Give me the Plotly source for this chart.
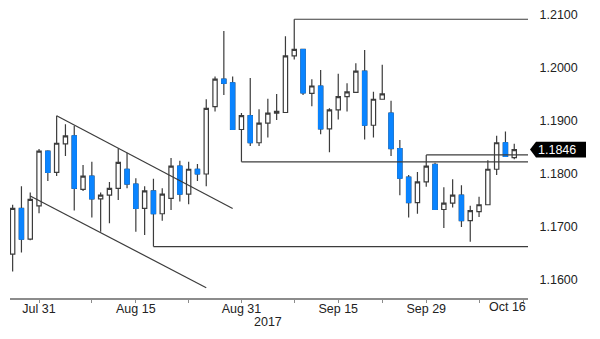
import plotly.graph_objects as go

# ---- data (EUR/USD daily candles) ----
dates = [
    "2017-07-26", "2017-07-27", "2017-07-28", "2017-07-31", "2017-08-01", "2017-08-02",
    "2017-08-03", "2017-08-04", "2017-08-07", "2017-08-08", "2017-08-09", "2017-08-10",
    "2017-08-11", "2017-08-14", "2017-08-15", "2017-08-16", "2017-08-17", "2017-08-18",
    "2017-08-21", "2017-08-22", "2017-08-23", "2017-08-24", "2017-08-25", "2017-08-28",
    "2017-08-29", "2017-08-30", "2017-08-31", "2017-09-01", "2017-09-04", "2017-09-05",
    "2017-09-06", "2017-09-07", "2017-09-08", "2017-09-11", "2017-09-12", "2017-09-13",
    "2017-09-14", "2017-09-15", "2017-09-18", "2017-09-19", "2017-09-20", "2017-09-21",
    "2017-09-22", "2017-09-25", "2017-09-26", "2017-09-27", "2017-09-28", "2017-09-29",
    "2017-10-02", "2017-10-03", "2017-10-04", "2017-10-05", "2017-10-06", "2017-10-09",
    "2017-10-10", "2017-10-11", "2017-10-12", "2017-10-13",
]
opens = [
    1.1649, 1.1735, 1.1677, 1.1740, 1.1843, 1.1803,
    1.1857, 1.1872, 1.1771, 1.1796, 1.1753, 1.1760,
    1.1773, 1.1809, 1.1781, 1.1735, 1.1768, 1.1725,
    1.1754, 1.1815, 1.1762, 1.1809, 1.1800, 1.1927,
    1.1979, 1.1972, 1.1884, 1.1910, 1.1859, 1.1896,
    1.1915, 1.1916, 1.2023, 1.2035, 1.1952, 1.1966,
    1.1885, 1.1921, 1.1946, 1.1954, 1.1994, 1.1892,
    1.1941, 1.1915, 1.1848, 1.1794, 1.1746, 1.1785,
    1.1818, 1.1733, 1.1745, 1.1760, 1.1712, 1.1729,
    1.1742, 1.1809, 1.1859, 1.1831,
]
highs = [
    1.1742, 1.1777, 1.1765, 1.1847, 1.1845, 1.1910,
    1.1894, 1.1891, 1.1817, 1.1823, 1.1765, 1.1785,
    1.1848, 1.1840, 1.1792, 1.1777, 1.1791, 1.1773,
    1.1830, 1.1825, 1.1823, 1.1819, 1.1941, 1.1984,
    1.2070, 1.1984, 1.1915, 1.1981, 1.1922, 1.1942,
    1.1951, 1.2060, 1.2092, 1.2035, 1.1979, 1.1996,
    1.1924, 1.1989, 1.1971, 1.2009, 1.2034, 1.1955,
    1.2006, 1.1938, 1.1864, 1.1798, 1.1804, 1.1836,
    1.1821, 1.1775, 1.1790, 1.1779, 1.1740, 1.1757,
    1.1826, 1.1872, 1.1880, 1.1857,
]
lows = [
    1.1616, 1.1652, 1.1675, 1.1726, 1.1787, 1.1796,
    1.1834, 1.1731, 1.1768, 1.1718, 1.1691, 1.1707,
    1.1751, 1.1773, 1.1691, 1.1685, 1.1663, 1.1712,
    1.1732, 1.1748, 1.1743, 1.1787, 1.1777, 1.1918,
    1.1949, 1.1883, 1.1823, 1.1853, 1.1853, 1.1869,
    1.1902, 1.1916, 1.2016, 1.1949, 1.1928, 1.1875,
    1.1841, 1.1903, 1.1918, 1.1954, 1.1865, 1.1869,
    1.1940, 1.1834, 1.1760, 1.1718, 1.1725, 1.1776,
    1.1733, 1.1698, 1.1737, 1.1700, 1.1672, 1.1719,
    1.1742, 1.1798, 1.1833, 1.1828,
]
closes = [
    1.1735, 1.1677, 1.1752, 1.1843, 1.1803, 1.1858,
    1.1872, 1.1773, 1.1796, 1.1753, 1.1760, 1.1773,
    1.1822, 1.1781, 1.1735, 1.1768, 1.1725, 1.1762,
    1.1815, 1.1762, 1.1809, 1.1800, 1.1924, 1.1979,
    1.1971, 1.1884, 1.1910, 1.1859, 1.1896, 1.1915,
    1.1918, 1.2023, 1.2035, 1.1953, 1.1966, 1.1885,
    1.1921, 1.1946, 1.1955, 1.1994, 1.1892, 1.1941,
    1.1951, 1.1848, 1.1792, 1.1746, 1.1785, 1.1815,
    1.1733, 1.1745, 1.1760, 1.1712, 1.1731, 1.1742,
    1.1809, 1.1859, 1.1833, 1.1846,
]
last_price = 1.1846

y_tickvals = [1.16, 1.17, 1.18, 1.19, 1.20, 1.21]
x_tickvals = ["2017-07-31", "2017-08-08", "2017-08-15", "2017-08-23", "2017-08-31",
              "2017-09-08", "2017-09-15", "2017-09-22", "2017-09-29", "2017-10-09",
              "2017-10-16"]
x_ticktext = ["Jul 31", "", "Aug 15", "", "Aug 31", "", "Sep 15", "", "Sep 29", "", ""]
year_label = "2017"

# trend lines: (start date, start price, end date, end price)
trend_lines = [
    ("2017-08-02", 1.1910, "2017-08-30", 1.1735),
    ("2017-07-28", 1.17585, "2017-08-25", 1.15855),
]
# horizontal levels from a candle's high/low
level_lows = ["2017-08-17", "2017-08-31"]
level_highs = ["2017-09-08", "2017-09-29"]

x_range = ["2017-07-25 16:48", "2017-10-16 13:30"]
y_range = [1.156604, 1.21283]

BLUE = "#0A84FF"
DARK = "#3c3c3c"
FONT = "Liberation Sans Narrow, Liberation Sans, Arial, sans-serif"

fig = go.Figure()

# full candles: wicks + outlines in dark gray
fig.add_trace(go.Candlestick(
    x=dates, open=opens, high=highs, low=lows, close=closes,
    increasing=dict(line=dict(color=DARK, width=1.2), fillcolor="white"),
    decreasing=dict(line=dict(color=DARK, width=1.2), fillcolor=BLUE),
    whiskerwidth=0, showlegend=False, hoverinfo="skip",
))

# overlay blue bodies (no dark outline) for falling candles
b_open, b_high, b_low, b_close = [], [], [], []
for o, c in zip(opens, closes):
    if c < o:
        b_open.append(o); b_close.append(c); b_high.append(o); b_low.append(c)
    else:
        b_open.append(None); b_close.append(None); b_high.append(None); b_low.append(None)
fig.add_trace(go.Candlestick(
    x=dates, open=b_open, high=b_high, low=b_low, close=b_close,
    increasing=dict(line=dict(color=BLUE, width=1), fillcolor=BLUE),
    decreasing=dict(line=dict(color=BLUE, width=1), fillcolor=BLUE),
    whiskerwidth=0, showlegend=False, hoverinfo="skip",
))

shapes = []
for d0, p0, d1, p1 in trend_lines:
    shapes.append(dict(type="line", xref="x", yref="y", x0=d0, y0=p0, x1=d1, y1=p1,
                       line=dict(color=DARK, width=1.2)))
for d in level_lows:
    p = lows[dates.index(d)]
    shapes.append(dict(type="line", xref="x", yref="y", x0=d, y0=p, x1=x_range[1], y1=p,
                       line=dict(color=DARK, width=1.2)))
for d in level_highs:
    p = highs[dates.index(d)]
    shapes.append(dict(type="line", xref="x", yref="y", x0=d, y0=p, x1=x_range[1], y1=p,
                       line=dict(color=DARK, width=1.2)))
# last price tag
shapes.append(dict(type="path", xref="paper", yref="y", xsizemode="pixel", ysizemode="pixel",
                   xanchor=1, yanchor=last_price,
                   path="M 2 0 L 8 -7.8 L 58 -7.8 L 58 7.8 L 8 7.8 Z",
                   fillcolor="black", line=dict(width=0)))

annotations = [
    dict(text=f"{last_price:.4f}", xref="paper", yref="y", x=1, y=last_price,
         xanchor="left", yanchor="middle", xshift=8, showarrow=False,
         font=dict(family=FONT, size=12.5, color="white")),
    dict(text="Oct 16", xref="x", yref="paper", x="2017-10-16", y=0,
         xanchor="right", yanchor="top", xshift=5, yshift=0, showarrow=False,
         font=dict(family=FONT, size=12.5, color="#222")),
    dict(text=year_label, xref="x", yref="paper", x="2017-09-05", y=0,
         xanchor="center", yanchor="top", yshift=-15, showarrow=False,
         font=dict(family=FONT, size=12.5, color="#222")),
]

fig.update_layout(
    width=600, height=339,
    margin=dict(l=10, r=72, t=0, b=41),
    paper_bgcolor="white", plot_bgcolor="white",
    showlegend=False,
    shapes=shapes, annotations=annotations,
    font=dict(family=FONT, size=12.5, color="#222"),
)
fig.update_xaxes(
    type="date", range=x_range,
    rangebreaks=[dict(bounds=["sat", "mon"])],
    rangeslider=dict(visible=False),
    showgrid=False, zeroline=False,
    showline=True, linecolor="#8c8c8c", linewidth=2,
    ticks="outside", ticklen=3, tickcolor="#8c8c8c", tickwidth=1,
    ticklabelstandoff=-5,
    tickvals=x_tickvals, ticktext=x_ticktext,
    tickfont=dict(family=FONT, size=12.5, color="#222"),
)
fig.update_yaxes(
    range=y_range, side="right",
    showgrid=False, zeroline=False, showline=False,
    tickvals=y_tickvals, ticktext=[f"{v:.4f}" for v in y_tickvals],
    ticks="outside", ticklen=8, tickcolor="rgba(0,0,0,0)",
    tickfont=dict(family=FONT, size=12.5, color="#222"),
)

fig.write_html("out.html")
